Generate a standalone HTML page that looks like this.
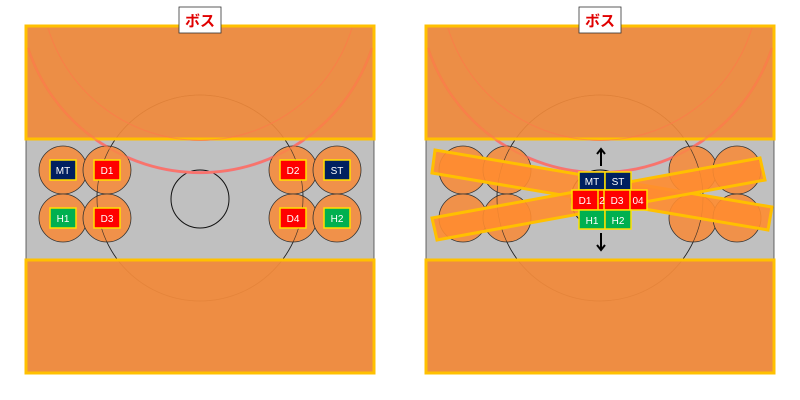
<!DOCTYPE html>
<html><head><meta charset="utf-8"><style>
html,body{margin:0;padding:0;background:#fff;width:800px;height:400px;overflow:hidden}
svg text{font-family:"Liberation Sans","Noto Sans CJK JP",sans-serif}
</style></head><body>
<svg width="800" height="400" viewBox="0 0 800 400" xmlns="http://www.w3.org/2000/svg">
<defs>
<g id="base">
  <rect x="26" y="26" width="348" height="348" fill="#c0c0c0" stroke="#444" stroke-width="0.8"/>
  <circle cx="200" cy="198" r="103" fill="none" stroke="#222" stroke-width="0.8"/>
  <circle cx="200" cy="199" r="29" fill="none" stroke="#111" stroke-width="1"/>
  <path d="M28,48 A181,181 0 0 0 372,48" fill="none" stroke="#f0708a" stroke-width="3"/>
  <path d="M48,28 A159,159 0 0 0 352,28" fill="none" stroke="#f07060" stroke-width="1"/>
  <g fill="#f0914a" stroke="#333" stroke-width="0.8">
    <circle cx="63" cy="170" r="24"/><circle cx="107" cy="170" r="24"/>
    <circle cx="63" cy="218" r="24"/><circle cx="107" cy="218" r="24"/>
    <circle cx="293" cy="170" r="24"/><circle cx="337" cy="170" r="24"/>
    <circle cx="293" cy="218" r="24"/><circle cx="337" cy="218" r="24"/>
  </g>
  <circle cx="200" cy="198" r="103" fill="none" stroke="#222" stroke-width="0.7" opacity="0.8"/>
  <rect x="26" y="26" width="348" height="113" fill="#f08a3c" fill-opacity="0.92" stroke="#ffc000" stroke-width="3"/>
  <path d="M28,48 A181,181 0 0 0 372,48" fill="none" stroke="#ff7a50" stroke-width="2" opacity="0.6"/>
  <path d="M48,28 A159,159 0 0 0 352,28" fill="none" stroke="#ff7a50" stroke-width="1" opacity="0.6"/>
  <rect x="26" y="260" width="348" height="113" fill="#f08a3c" fill-opacity="0.95" stroke="#ffc000" stroke-width="3"/>
</g>
</defs>

<use href="#base"/>
<rect x="179" y="7" width="42" height="26" fill="#fff" stroke="#333" stroke-width="0.8"/>
<text x="200" y="26" text-anchor="middle" font-size="15" font-weight="bold" fill="#e00000">ボス</text>
<g font-size="10" text-anchor="middle" stroke="#ffe000" stroke-width="1.5">
  <rect x="50" y="160" width="26" height="20" fill="#002060"/>
  <rect x="94" y="160" width="26" height="20" fill="#ff0000"/>
  <rect x="50" y="208" width="26" height="20" fill="#00b050"/>
  <rect x="94" y="208" width="26" height="20" fill="#ff0000"/>
  <rect x="280" y="160" width="26" height="20" fill="#ff0000"/>
  <rect x="324" y="160" width="26" height="20" fill="#002060"/>
  <rect x="280" y="208" width="26" height="20" fill="#ff0000"/>
  <rect x="324" y="208" width="26" height="20" fill="#00b050"/>
</g>
<g font-size="10" text-anchor="middle" fill="#fff">
  <text x="63" y="174">MT</text><text x="107" y="174">D1</text>
  <text x="63" y="222">H1</text><text x="107" y="222">D3</text>
  <text x="293" y="174">D2</text><text x="337" y="174">ST</text>
  <text x="293" y="222">D4</text><text x="337" y="222">H2</text>
</g>

<use href="#base" x="400"/>
<rect x="579" y="7" width="42" height="26" fill="#fff" stroke="#333" stroke-width="0.8"/>
<text x="600" y="26" text-anchor="middle" font-size="15" font-weight="bold" fill="#e00000">ボス</text>
<g fill="#ff8c30" fill-opacity="0.9" stroke="#ffc000" stroke-width="3">
  <polygon points="435,150 772,207 768,230 432,173"/>
  <polygon points="432,218 760,158 765,180 437,240"/>
</g>
<g stroke="#000" stroke-width="2" fill="none">
  <line x1="601" y1="150" x2="601" y2="166"/><polyline points="597,154 601,149 605,154"/>
  <line x1="601" y1="233" x2="601" y2="250"/><polyline points="597,245 601,250 605,245"/>
</g>
<g stroke="#ffe000" stroke-width="1.5">
  <rect x="579" y="172" width="26" height="18" fill="#002060"/>
  <rect x="605" y="172" width="26" height="18" fill="#002060"/>
  <rect x="586" y="190" width="26" height="20" fill="#ff0000"/>
  <rect x="621" y="190" width="26" height="20" fill="#ff0000"/>
  <rect x="572" y="190" width="26" height="20" fill="#ff0000"/>
  <rect x="604" y="190" width="26" height="20" fill="#ff0000"/>
  <rect x="579" y="210" width="26" height="19" fill="#00b050"/>
  <rect x="605" y="210" width="26" height="19" fill="#00b050"/>
</g>
<g font-size="10" text-anchor="middle" fill="#fff">
  <text x="592" y="185">MT</text><text x="618" y="185">ST</text>
  <text x="585" y="204">D1</text><text x="602" y="204">2</text>
  <text x="617" y="204">D3</text><text x="638" y="204">04</text>
  <text x="592" y="224">H1</text><text x="618" y="224">H2</text>
</g>
</svg>
</body></html>
